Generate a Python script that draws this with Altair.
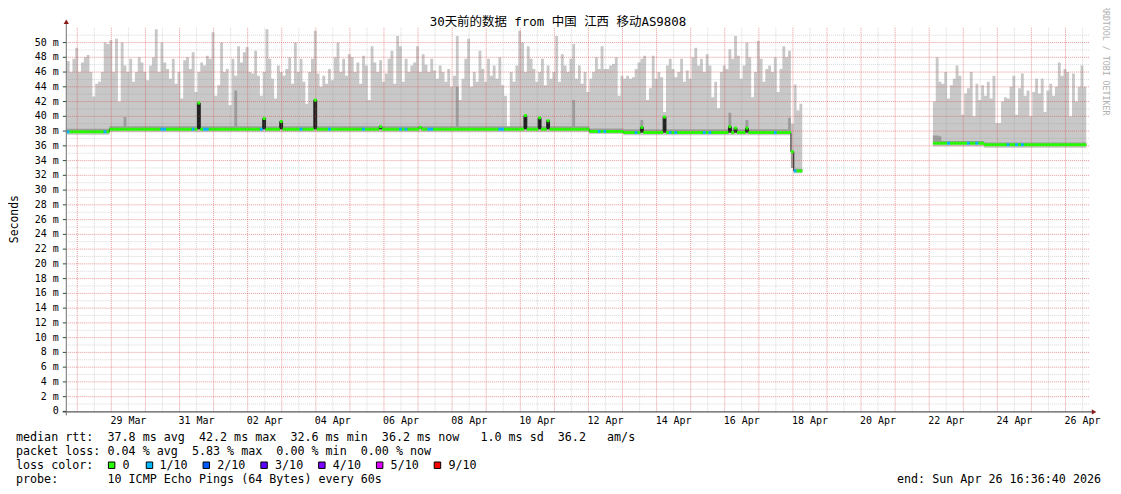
import altair as alt
import pandas as pd

# ---------------------------------------------------------------- data
START = "2026-03-27 16:36:40"   # 30 days before the end stamp
END = "2026-04-26 16:36:40"
BIN_HOURS = 2                   # one smoke column per 2 hours

# top of the smoke (largest ping) per 2-hour bin, ms -- first block of data (bins 0..258)
smoke_top_part1 = [
    47.5, 46.0, 47.8, 49.3, 46.0, 47.3, 48.0, 48.3, 46.0, 42.7, 44.4, 44.7,
    46.0, 50.0, 49.8, 50.3, 46.0, 50.5, 42.0, 50.0, 46.9, 46.0, 47.8, 44.7,
    46.0, 48.0, 47.3, 46.0, 44.9, 46.9, 48.0, 51.8, 46.0, 50.0, 47.3, 46.4,
    45.1, 47.8, 44.4, 46.0, 42.4, 47.6, 48.0, 46.4, 48.7, 43.3, 46.0, 47.3,
    46.9, 48.2, 47.8, 51.4, 42.8, 44.2, 50.0, 46.0, 46.4, 41.5, 47.8, 45.5,
    49.5, 47.3, 48.7, 49.4, 46.0, 45.8, 48.9, 45.5, 42.8, 46.0, 51.8, 47.8,
    45.1, 42.4, 46.9, 46.0, 45.5, 46.4, 48.0, 44.4, 50.0, 46.0, 47.8, 44.7,
    41.7, 46.0, 47.8, 51.6, 45.8, 44.0, 45.5, 44.4, 46.4, 44.9, 48.0, 50.0,
    46.0, 47.8, 45.5, 48.4, 48.0, 46.0, 47.3, 44.4, 48.2, 46.9, 42.2, 49.5,
    47.3, 46.0, 47.6, 44.7, 45.8, 47.8, 48.9, 44.4, 50.9, 49.5, 44.7, 47.8,
    46.0, 46.9, 47.3, 49.5, 46.0, 48.4, 47.0, 46.0, 47.8, 46.2, 45.1, 46.9,
    46.0, 44.7, 46.4, 44.0, 45.5, 50.9, 42.2, 45.1, 47.8, 50.5, 44.0, 46.0,
    44.7, 48.9, 46.4, 44.7, 47.8, 45.5, 46.9, 45.1, 48.0, 44.2, 42.8, 38.6,
    46.0, 44.7, 46.9, 51.6, 50.0, 46.0, 49.5, 47.8, 46.4, 44.7, 46.0, 47.8,
    44.2, 46.9, 45.1, 46.0, 50.9, 44.7, 48.4, 46.9, 46.0, 47.8, 49.8, 45.1,
    46.9, 44.4, 46.0, 43.3, 45.1, 46.0, 48.0, 46.4, 49.5, 46.4, 46.4, 46.9,
    47.1, 48.0, 42.8, 45.5, 45.1, 45.5, 45.1, 45.3, 46.4, 47.3, 47.8, 48.2,
    42.2, 43.8, 48.2, 45.1, 46.0, 45.3, 40.6, 46.9, 47.8, 46.4, 45.3, 46.0,
    47.8, 44.7, 46.2, 45.1, 48.0, 49.3, 46.9, 47.8, 46.0, 48.4, 46.9, 42.6,
    44.7, 41.1, 46.0, 46.9, 46.4, 49.1, 47.8, 50.9, 48.2, 45.1, 46.9, 50.0,
    48.0, 42.6, 46.0, 50.2, 47.8, 44.7, 46.4, 46.9, 46.0, 48.0, 43.3, 46.4,
    49.5, 48.0, 48.9, 39.0, 44.3, 40.8, 41.7,
]
PART2_FIRST_BIN = 305
# second block of data, after the outage (bins 305..358)
smoke_top_part2 = [
    42.0, 48.0, 44.7, 44.4, 46.0, 42.4, 44.2, 45.1, 46.9, 45.5, 40.2, 43.1,
    43.8, 46.0, 40.0, 44.4, 42.2, 44.2, 42.8, 44.7, 42.4, 45.5, 39.1, 39.1,
    42.0, 42.6, 42.4, 44.0, 45.5, 40.2, 43.8, 45.8, 42.8, 43.5, 40.0, 43.3,
    45.1, 43.1, 45.1, 40.6, 43.5, 44.4, 42.8, 44.0, 47.3, 45.5, 46.4, 46.0,
    40.0, 45.8, 42.0, 44.0, 46.9, 44.0,
]

# flat runs: (first bin, last bin, ms)
median_runs = [(0, 14, 37.9), (15, 183, 38.25), (184, 195, 37.95), (196, 254, 37.8),
               (255, 255, 35.2), (256, 258, 32.6), (305, 322, 36.35), (323, 358, 36.15)]
median_spikes = {46: 41.8, 69: 39.7, 75: 39.3, 87: 42.2, 110: 38.6, 124: 38.5, 161: 40.1,
                 166: 39.8, 169: 39.4, 202: 38.5, 210: 39.9, 233: 38.6, 235: 38.4, 239: 38.4}
smoke_bottom_runs = [(0, 14, 37.5), (15, 183, 37.85), (184, 195, 37.6), (196, 254, 37.45),
                     (255, 255, 33.0), (256, 258, 32.3), (305, 322, 35.9), (323, 358, 35.75)]
inner_top_runs = [(0, 14, 38.3), (15, 183, 38.65), (184, 195, 38.35), (196, 254, 38.25),
                  (255, 255, 33.0), (256, 258, 32.9), (305, 322, 36.65), (323, 358, 36.45)]
inner_spikes = {20: 39.9, 59: 43.5, 137: 44.0, 178: 42.2, 202: 39.5, 233: 40.5, 239: 39.5,
                254: 39.8, 305: 37.4, 306: 37.4, 307: 37.3}
loss_1_of_10_bins = [0, 13, 33, 34, 44, 48, 49, 68, 82, 92, 104, 117, 119, 127, 128, 152, 153,
                     187, 189, 200, 212, 214, 224, 226, 249, 256, 310, 317, 320, 331, 334, 336]

loss_labels = ["0", "1/10", "2/10", "3/10", "4/10", "5/10", "9/10"]
loss_colors = ["#26ff00", "#00b8ff", "#0059ff", "#5e00ff", "#7e00ff", "#dd00ff", "#ff0000"]

x_tick_labels = ["29 Mar", "31 Mar", "02 Apr", "04 Apr", "06 Apr", "08 Apr", "10 Apr", "12 Apr",
                 "14 Apr", "16 Apr", "18 Apr", "20 Apr", "22 Apr", "24 Apr", "26 Apr"]
y_tick_values = list(range(0, 51, 2))
y_tick_labels = ["0"] + [f"{v} m" for v in y_tick_values[1:]]

title_text = "30天前的数据 from 中国 江西 移动AS9808"
legend_lines = [
    "median rtt:  37.8 ms avg  42.2 ms max  32.6 ms min  36.2 ms now   1.0 ms sd  36.2   am/s",
    "packet loss: 0.04 % avg  5.83 % max  0.00 % min  0.00 % now",
    "loss color:",
    "probe:       10 ICMP Echo Pings (64 Bytes) every 60s",
]
end_text = "end: Sun Apr 26 16:36:40 2026"

# ---------------------------------------------------------------- frames
t0 = pd.Timestamp(START, tz="UTC")
t1 = pd.Timestamp(END, tz="UTC")


def ms(ts):
    return int(ts.value // 10**6)


def bin_ms(i):
    return ms(t0 + pd.Timedelta(hours=BIN_HOURS * i))


def run_value(runs, i):
    for a, b, v in runs:
        if a <= i <= b:
            return v
    return None


rows = []
for seg, (first, tops) in enumerate([(0, smoke_top_part1), (PART2_FIRST_BIN, smoke_top_part2)]):
    for k, top in enumerate(tops):
        i = first + k
        med = median_spikes.get(i, run_value(median_runs, i))
        inner = inner_spikes.get(i, run_value(inner_top_runs, i))
        rows.append(dict(seg=seg, t=bin_ms(i), t_end=bin_ms(i + 1), top=top,
                         bottom=run_value(smoke_bottom_runs, i), inner=inner, median=med,
                         base=run_value(median_runs, i),
                         loss="1/10" if i in loss_1_of_10_bins else "0"))
df = pd.DataFrame(rows)
closing = df.groupby("seg").tail(1).copy()
closing["t"] = closing["t_end"]
step_df = pd.concat([df, closing]).sort_values(["seg", "t"]).reset_index(drop=True)

days = pd.date_range("2026-03-28", "2026-04-26", freq="D", tz="UTC")
major_x = pd.DataFrame({"t": [ms(d) for d in days]})
minor_x = pd.DataFrame({"t": [ms(d + pd.Timedelta(hours=12)) for d in days]})
major_y = pd.DataFrame({"v": list(range(2, 51, 2))})
minor_y = pd.DataFrame({"v": list(range(1, 52, 2))})
tick_ms = [ms(pd.Timestamp(f"2026 {lab} 12:00", tz="UTC")) for lab in x_tick_labels]
x_ticks_df = pd.DataFrame({"t": tick_ms, "lab": x_tick_labels})
y_ticks_df = pd.DataFrame({"v": y_tick_values, "lab": y_tick_labels})

# ---------------------------------------------------------------- chart
W, H = 1026, 385
MONO = "DejaVu Sans Mono"
xs = alt.Scale(domain=[ms(t0), ms(t1)], nice=False, zero=False)
ys = alt.Scale(domain=[0, 52], nice=False, zero=True)


def X(field):
    return alt.X(field, scale=xs, axis=None)


def Y(field):
    return alt.Y(field, scale=ys, axis=None)


base = alt.Chart(step_df)

smoke = base.mark_area(interpolate="step-after", color="#c8c8c8").encode(
    x=X("t:Q"), y=Y("top:Q"), y2="bottom:Q", detail="seg:N")
inner = base.mark_area(interpolate="step-after", color="#9c9c9c").encode(
    x=X("t:Q"), y=Y("inner:Q"), y2="base:Q", detail="seg:N")

# median spikes: dark column from the usual level up to the spike
spikes = alt.Chart(df).transform_filter("datum.median > datum.base + 0.25").mark_rect(
    color="#202020").encode(x=X("t:Q"), x2="t_end:Q", y=Y("base:Q"), y2="median:Q")

grid_minor_x = alt.Chart(minor_x).mark_rule(color="#8f8f8f", opacity=0.35, strokeDash=[1, 1],
                                             strokeWidth=1).encode(x=X("t:Q"))
grid_major_x = alt.Chart(major_x).mark_rule(color="#de5050", opacity=0.6, strokeDash=[1, 1],
                                             strokeWidth=1).encode(x=X("t:Q"))
grid_minor_y = alt.Chart(minor_y).mark_rule(color="#8f8f8f", opacity=0.35, strokeDash=[1, 1],
                                             strokeWidth=1).encode(y=Y("v:Q"))
grid_major_y = alt.Chart(major_y).mark_rule(color="#de5050", opacity=0.6, strokeDash=[1, 1],
                                             strokeWidth=1).encode(y=Y("v:Q"))

median_line = base.mark_line(interpolate="step-after", color="#202020", strokeWidth=1).encode(
    x=X("t:Q"), y=Y("median:Q"), detail="seg:N")

loss_band = alt.Chart(df).transform_calculate(
    lo="datum.median - 0.2", hi="datum.median + 0.2"
).mark_rect().encode(
    x=X("t:Q"), x2="t_end:Q",
    y=Y("lo:Q"), y2="hi:Q",
    color=alt.Color("loss:N", scale=alt.Scale(domain=loss_labels, range=loss_colors), legend=None),
)

# axis labels and ticks, drawn through the same scales
y_labels = alt.Chart(y_ticks_df).mark_text(font=MONO, fontSize=10, align="right",
                                           baseline="middle", color="#000").encode(
    x=alt.value(-8), y=Y("v:Q"), text="lab:N")
y_ticks = alt.Chart(y_ticks_df).mark_rule(color="#2c4d43", strokeWidth=1).encode(
    x=alt.value(-4), x2=alt.value(0), y=Y("v:Q"))
x_labels = alt.Chart(x_ticks_df).mark_text(font=MONO, fontSize=10, align="center",
                                           baseline="top", color="#000").encode(
    x=X("t:Q"), y=alt.value(H + 5), text="lab:N")

# axes lines and arrows
axis_df = pd.DataFrame({"k": [0]})
x_axis_line = alt.Chart(axis_df).mark_rule(color="#2c2c2c", strokeWidth=1).encode(
    x=alt.value(-4), x2=alt.value(W + 4), y=alt.value(H + 0.5))
y_axis_line = alt.Chart(axis_df).mark_rule(color="#707070", strokeWidth=1).encode(
    x=alt.value(-0.5), y=alt.value(H + 4), y2=alt.value(-6))
arrow_up = alt.Chart(axis_df).mark_point(shape="triangle-up", filled=True, color="#8b1a1a",
                                         size=28, opacity=1).encode(x=alt.value(-0.5), y=alt.value(-6))
arrow_right = alt.Chart(axis_df).mark_point(shape="triangle-right", filled=True, color="#8b1a1a",
                                            size=28, opacity=1).encode(x=alt.value(W + 5), y=alt.value(H + 0.5))


def text_layer(txt, x, y, size=11.75, align="left", angle=0, color="#000", font=MONO):
    return alt.Chart(pd.DataFrame({"s": [txt.replace(" ", "\u00a0")]})).mark_text(
        font=font, fontSize=size, align=align, baseline="middle", angle=angle, color=color
    ).encode(text="s:N", x=alt.value(x), y=alt.value(y))


texts = [
    text_layer(title_text, 493, -6, size=12.5, align="center",
               font="DejaVu Sans Mono, Noto Sans CJK SC"),
    text_layer("Seconds", -52, 192, size=11.5, angle=270, align="center"),
    text_layer("RRDTOOL / TOBI OETIKER", 1042, 33, size=8.3, angle=90, align="center",
               color="#b0b0b0"),
    text_layer(end_text, 1038, 453, align="right"),
]
for k, line in enumerate(legend_lines):
    texts.append(text_layer(line, -51, 411 + 14 * k))

sq_x = [45, 83, 140, 198, 256, 314, 372]
lab_x = [56, 93, 151, 209, 267, 325, 383]
for lab, col, sx, lx in zip(loss_labels, loss_colors, sq_x, lab_x):
    texts.append(alt.Chart(pd.DataFrame({"c": [col]})).mark_square(
        size=42, color=col, fill=col, stroke="#000", strokeWidth=1, opacity=1, filled=True
    ).encode(x=alt.value(sx), y=alt.value(439)))
    texts.append(text_layer(lab, lx, 439))

chart = alt.layer(
    smoke, inner, spikes, grid_minor_x, grid_minor_y, grid_major_x, grid_major_y,
    median_line, loss_band, y_ticks, y_labels, x_labels,
    x_axis_line, y_axis_line, arrow_up, arrow_right, *texts
).properties(
    width=W, height=H,
    autosize=alt.AutoSizeParams(type="none"),
    padding={"left": 59, "top": 19, "right": 24, "bottom": 76},
    background="#ffffff",
).configure_view(stroke=None)

chart.save("out.html", embed_options={"renderer": "svg", "actions": False})
